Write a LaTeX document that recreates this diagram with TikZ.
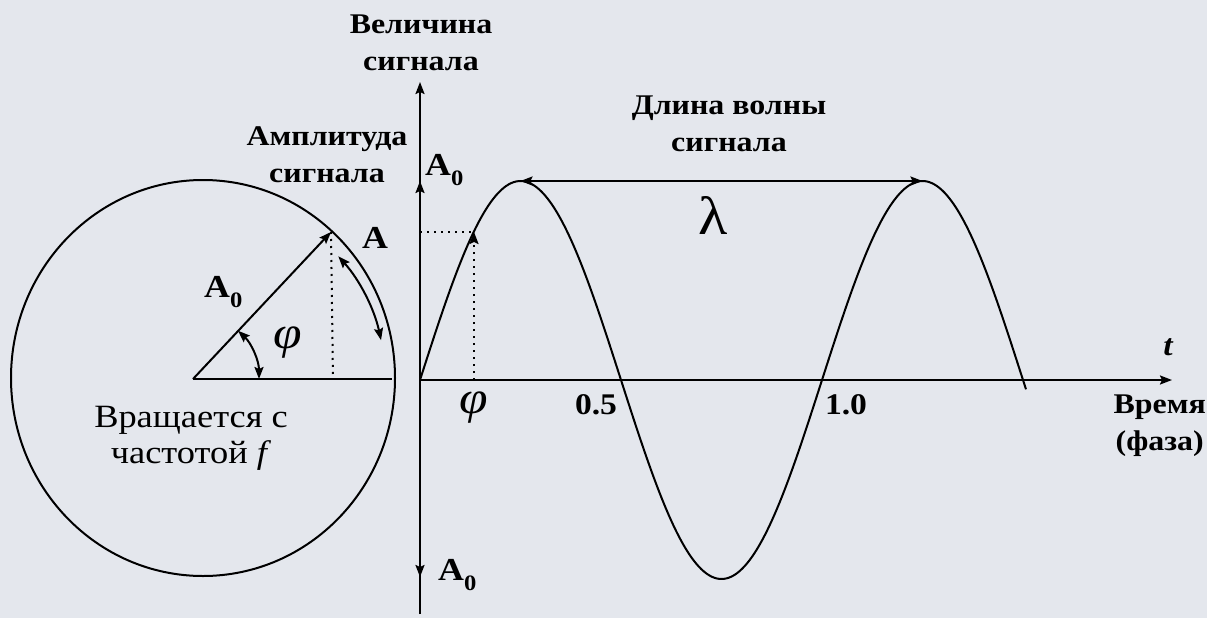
\documentclass[tikz,border=0pt]{standalone}
\usepackage{fontspec}
\setmainfont[FakeStretch=1.12]{Liberation Serif}
\usetikzlibrary{arrows.meta,calc}
\definecolor{bg}{RGB}{228,231,237}
\newcommand{\Asub}{A\raisebox{-0.32em}{\fontsize{22}{22}\selectfont 0}}
\begin{document}
\begin{tikzpicture}[x=1pt,y=-1pt,
  ln/.style={line width=2pt},
  tip/.style={-{Stealth[length=12pt,width=9pt,inset=2pt]}},
  tips/.style={{Stealth[length=12pt,width=9pt,inset=2pt]}-{Stealth[length=12pt,width=9pt,inset=2pt]}},
  dotline/.style={line width=2pt, dash pattern=on 2pt off 5pt},
  lbl/.style={font=\fontsize{28.5}{37}\selectfont\bfseries, align=center, inner sep=0pt},
  rm/.style={font=\fontsize{32.5}{36}\selectfont, align=center, inner sep=0pt},
  big/.style={font=\fontsize{32}{36}\selectfont\bfseries, inner sep=0pt, anchor=west},
  num/.style={font=\fontsize{30}{36}\selectfont\bfseries, inner sep=0pt},
  greek/.style={font=\fontsize{46}{48}\selectfont\itshape, inner sep=0pt}
]
\fill[bg] (0,0) rectangle (1207,618);
\useasboundingbox (0,0) rectangle (1207,618);

% coordinates
\coordinate (C) at (203,378);
\coordinate (O) at (193,379);
\coordinate (R) at (392,379);
\coordinate (P) at (331,232);
\coordinate (Pf) at (333,379);
\coordinate (Y0) at (420,380);
\coordinate (Ybot) at (420,614);
\coordinate (Ytop) at (420,82);
\coordinate (Yup1) at (420,205);
\coordinate (YA) at (420,181);
\coordinate (Ydn1) at (420,550);
\coordinate (YB) at (420,577);
\coordinate (Xend) at (1172,380);
\coordinate (W) at (474,232);
\coordinate (Wf) at (474,380);
\coordinate (Wy) at (420,232);
\coordinate (Pk1) at (520.5,181);
\coordinate (Pk2) at (922.5,181);

% circle
\draw[ln] (C) ellipse [x radius=192, y radius=198];
\draw[ln] (O) -- (R);
\draw[ln,tip] (O) -- (P);
\draw[dotline] (P) -- (Pf);
\draw[ln,tips] ($(O)+(66,0)$) arc[start angle=0, end angle=-47, radius=66];
\draw[ln,tips] ($(C)+(-42:182)$) arc[start angle=-42, end angle=-12, radius=182];

% axes
\draw[ln,tip] (Ybot) -- (Ytop);
\draw[ln,tip] (Yup1) -- (YA);
\draw[ln,tip] (Ydn1) -- (YB);
\draw[ln,tip] (Y0) -- (Xend);

% wave
\draw[ln] plot[domain=0:606, samples=240, smooth] ({\x+420}, {380-199*sin(\x/402*360)});
\draw[dotline] (Wy) -- (W);
\draw[dotline] (Wf) -- ($(W)+(0,8)$);
\draw[ln,tip] ($(W)+(0,8)$) -- (W);
\draw[ln,tips] (Pk1) -- (Pk2);

% labels
\node[lbl] (vel) at (421,43) {Величина\\сигнала};
\node[lbl] (amp) at (327,155) {Амплитуда\\сигнала};
\node[lbl] (dl) at (729,124) {Длина волны\\сигнала};
\node[lbl, anchor=east] (time) at (1206,426) {Время\\(фаза)};
\node[rm] (rot) at (191,438) {Вращается с\\частотой \textit{f}};
\node[big] (a0top) at (425,170) {\Asub};
\node[big] (a0bot) at (438,575) {\Asub};
\node[big] (a0rad) at (204,292) {\Asub};
\node[big] (aa) at (362,238) {A};
\node[greek] (phi1) at (288,343) {φ};
\node[greek] (phi2) at (474,408) {φ};
\node[num] (h) at (596,405) {0.5};
\node[num] (one) at (846,405) {1.0};
\node[font=\fontsize{54}{54}\selectfont, inner sep=0pt] (lam) at (713,215) {λ};
\node[font=\fontsize{30}{30}\selectfont\bfseries\itshape, inner sep=0pt] (t) at (1168,347) {t};
\end{tikzpicture}
\end{document}
